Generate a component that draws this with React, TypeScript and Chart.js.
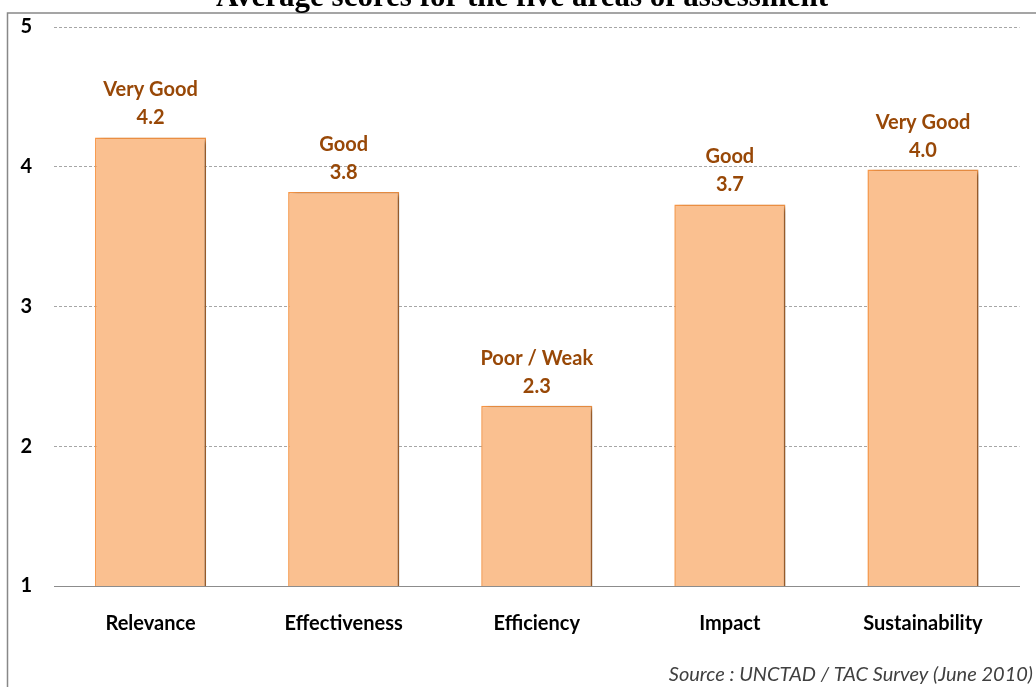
import React, { useEffect, useRef } from "react";
import { Chart, registerables } from "chart.js";

Chart.register(...registerables);

const categories = ["Relevance", "Effectiveness", "Efficiency", "Impact", "Sustainability"];
const scores = [4.21, 3.82, 2.29, 3.73, 3.98];
const ratings = ["Very Good", "Good", "Poor / Weak", "Good", "Very Good"];
const titleText = "Average scores for the five areas of assessment";
const sourceText = "Source : UNCTAD / TAC Survey (June 2010)";

const W = 1036;
const H = 687;

export default function App() {
  const ref = useRef<HTMLCanvasElement | null>(null);

  useEffect(() => {
    document.body.style.margin = "0";
    document.body.style.overflow = "hidden";
    const canvas = ref.current;
    if (!canvas) return;

    const decor = {
      id: "decor",
      beforeDatasetsDraw(chart: any) {
        const ctx = chart.ctx;
        ctx.save();
        ctx.shadowColor = "rgba(0,0,0,0.45)";
        ctx.shadowBlur = 5;
        ctx.shadowOffsetX = 4;
        ctx.shadowOffsetY = 2;
      },
      afterDatasetsDraw(chart: any) {
        const ctx = chart.ctx;
        ctx.restore();
        const meta = chart.getDatasetMeta(0);
        ctx.save();
        ctx.fillStyle = "#984807";
        ctx.font = "bold 20px Lato";
        ctx.textAlign = "center";
        ctx.textBaseline = "alphabetic";
        meta.data.forEach((bar: any, i: number) => {
          ctx.fillText(scores[i].toFixed(1), bar.x, bar.y - 13);
          ctx.fillText(ratings[i], bar.x, bar.y - 41);
        });
        ctx.restore();
      },
      afterDraw(chart: any) {
        const ctx = chart.ctx;
        ctx.save();
        // frame
        ctx.strokeStyle = "#888888";
        ctx.lineWidth = 1.5;
        ctx.beginPath();
        ctx.moveTo(W, 13);
        ctx.lineTo(7.5, 13);
        ctx.lineTo(7.5, H);
        ctx.stroke();
        // title
        ctx.fillStyle = "#000000";
        ctx.font = "bold 31px 'Liberation Serif'";
        ctx.textAlign = "center";
        ctx.textBaseline = "alphabetic";
        ctx.fillText(titleText, 522, 6);
        // source
        ctx.fillStyle = "#404040";
        ctx.font = "italic 20px Lato";
        ctx.textAlign = "right";
        ctx.fillText(sourceText, 1033, 681);
        ctx.restore();
      },
    };

    const chart = new Chart(canvas, {
      type: "bar",
      data: {
        labels: categories,
        datasets: [
          {
            data: scores,
            backgroundColor: "#FAC090",
            borderColor: "#F79646",
            borderWidth: 1.5,
            barPercentage: 0.575,
            categoryPercentage: 1,
          },
        ],
      },
      options: {
        responsive: false,
        animation: false,
        layout: { padding: { top: 27, right: 16.5, left: 0, bottom: 0 } },
        plugins: {
          legend: { display: false },
          title: { display: false },
          tooltip: { enabled: false },
        },
        scales: {
          x: {
            grid: { display: false, drawTicks: false },
            border: { display: true, color: "#8C8C8C", width: 1 },
            ticks: {
              color: "#000000",
              font: { family: "Lato", weight: "bold", size: 20 },
              padding: 26,
              maxRotation: 0,
            },
            afterFit(scale: any) {
              scale.height = 101;
              scale.paddingLeft = 0;
              scale.paddingRight = 0;
            },
          },
          y: {
            min: 1,
            max: 5,
            grid: { color: "#A6A6A6", drawTicks: false, lineWidth: 1 },
            border: { display: false, dash: [3, 2] },
            ticks: {
              stepSize: 1,
              color: "#000000",
              font: { family: "Lato", weight: "bold", size: 20 },
              padding: 22,
            },
            afterFit(scale: any) {
              scale.width = 54;
              scale.paddingTop = 0;
              scale.paddingBottom = 0;
            },
          },
        },
      },
      plugins: [decor],
    });

    return () => chart.destroy();
  }, []);

  return <canvas ref={ref} width={W} height={H} style={{ display: "block" }} />;
}
